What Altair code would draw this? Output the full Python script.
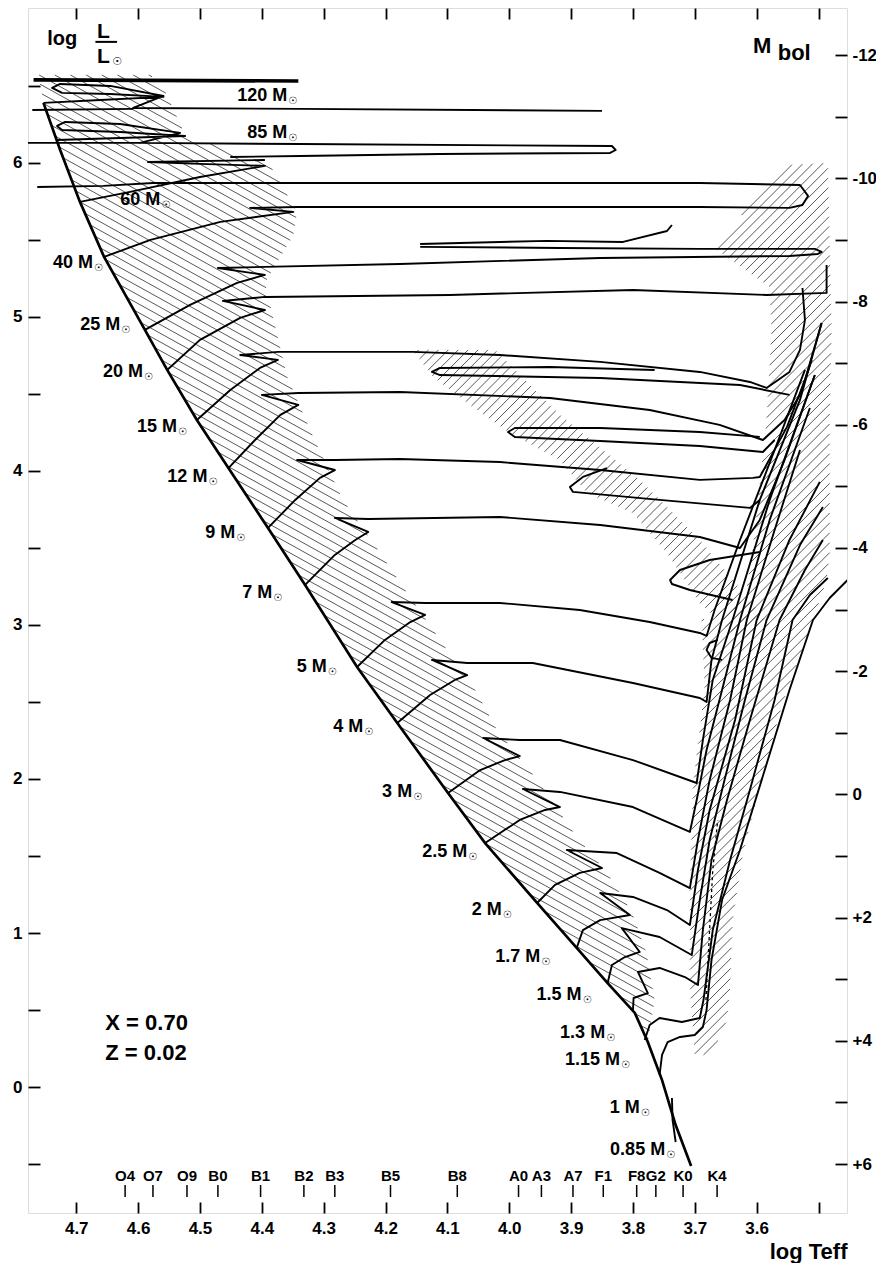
import altair as alt
import numpy as np
import pandas as pd

alt.data_transformers.disable_max_rows()

FONT = "Liberation Sans"
SYM_FONT = "DejaVu Sans"

W, H = 819, 1205
T_MIN, T_MAX = 3.454, 4.778
L_MIN, L_MAX = -0.818, 7.006

X_TICKS = [4.7, 4.6, 4.5, 4.4, 4.3, 4.2, 4.1, 4.0, 3.9, 3.8, 3.7, 3.6, 3.5]
Y_TICKS = [-0.5, 0.0, 0.5, 1.0, 1.5, 2.0, 2.5, 3.0, 3.5, 4.0, 4.5, 5.0, 5.5, 6.0, 6.5]
MBOL_TICKS = list(range(-12, 7))

# ---------------- ZAMS ----------------
ZAMS_T = [4.753, 4.726, 4.694, 4.655, 4.589, 4.553, 4.505, 4.454, 4.390, 4.330, 4.246,
          4.181, 4.099, 4.039, 3.955, 3.891, 3.841, 3.797, 3.776, 3.753, 3.731, 3.706]
ZAMS_L = [6.390, 6.084, 5.747, 5.390, 4.916, 4.656, 4.331, 4.019, 3.630, 3.260, 2.727,
          2.364, 1.909, 1.584, 1.195, 0.903, 0.675, 0.481, 0.292, 0.045, -0.247, -0.513]

# ---------------- evolutionary tracks (log Teff, log L) ----------------
T_120a = [4.753, 4.661, 4.559, 4.645, 4.723, 4.739, 4.726, 4.645, 4.559, 4.608, 4.338, 3.850]
L_120a = [6.390, 6.409, 6.429, 6.448, 6.455, 6.487, 6.513, 6.500, 6.435, 6.357, 6.351, 6.338]
T_120b = [4.769, 4.341]
L_120b = [6.539, 6.532]
T_120c = [4.771, 4.608]
L_120c = [6.344, 6.351]
T_85a = [4.731, 4.629, 4.524, 4.629, 4.723, 4.731, 4.718, 4.629, 4.532, 4.597, 4.338, 3.834,
         3.828, 3.837, 4.112, 4.338, 4.451]
L_85a = [6.149, 6.162, 6.175, 6.201, 6.214, 6.240, 6.266, 6.253, 6.195, 6.130, 6.123, 6.110,
         6.084, 6.065, 6.058, 6.045, 6.039]
T_85b = [4.778, 4.597]
L_85b = [6.130, 6.130]
T_60 = [4.694, 4.613, 4.500, 4.395, 4.500, 4.584, 4.395]
L_60 = [5.747, 5.812, 5.909, 5.981, 5.994, 6.006, 6.019]
T_40 = [4.655, 4.580, 4.467, 4.349, 4.419, 4.343, 4.112, 3.692, 3.547, 3.526, 3.517, 3.530,
        3.692, 4.112, 4.576, 4.656, 4.763]
L_40 = [5.390, 5.500, 5.617, 5.682, 5.708, 5.714, 5.714, 5.714, 5.708, 5.727, 5.786, 5.857,
        5.870, 5.870, 5.870, 5.851, 5.844]
T_25a = [4.589, 4.516, 4.440, 4.395, 4.471, 4.395, 4.177, 3.853, 3.547, 3.501, 3.495, 3.506,
         3.692, 3.918, 4.144]
L_25a = [4.916, 5.078, 5.221, 5.273, 5.318, 5.325, 5.344, 5.383, 5.396, 5.409, 5.422, 5.442,
         5.442, 5.448, 5.455]
T_25b = [4.144, 3.939, 3.816, 3.745, 3.737]
L_25b = [5.474, 5.494, 5.487, 5.558, 5.597]
T_20 = [4.553, 4.500, 4.435, 4.395, 4.463, 4.395, 4.096, 3.800, 3.584, 3.487, 3.487]
L_20 = [4.656, 4.851, 4.994, 5.045, 5.104, 5.130, 5.143, 5.175, 5.143, 5.156, 5.338]
T_15a = [4.505, 4.451, 4.403, 4.374, 4.435, 4.374, 4.156, 4.015, 3.853, 3.692, 3.611, 3.584,
         3.547, 3.530, 3.522, 3.526]
L_15a = [4.331, 4.526, 4.669, 4.721, 4.753, 4.773, 4.773, 4.753, 4.708, 4.643, 4.578, 4.539,
         4.643, 4.786, 4.981, 5.188]
T_15b = [3.547, 3.627, 3.853, 4.112, 4.125, 4.112, 3.934, 3.765]
L_15b = [4.494, 4.558, 4.604, 4.623, 4.643, 4.669, 4.675, 4.656]
T_12a = [4.454, 4.411, 4.370, 4.341, 4.400, 4.341, 4.177, 3.934, 3.773, 3.660, 3.590, 3.555,
         3.530, 3.511]
L_12a = [4.019, 4.201, 4.364, 4.429, 4.494, 4.506, 4.513, 4.474, 4.396, 4.299, 4.201, 4.331,
         4.494, 4.721]
T_12b = [3.571, 3.590, 3.692, 3.853, 3.991, 4.002, 3.991, 3.853, 3.692, 3.595]
L_12b = [4.201, 4.123, 4.162, 4.195, 4.221, 4.253, 4.279, 4.279, 4.253, 4.221]
T_9a = [4.390, 4.346, 4.306, 4.282, 4.343, 4.282, 4.177, 4.015, 3.853, 3.692, 3.606, 3.595,
        3.551, 3.522, 3.495]
L_9a = [3.630, 3.812, 3.955, 4.006, 4.071, 4.071, 4.078, 4.058, 4.006, 3.942, 3.955, 3.961,
        4.286, 4.591, 4.961]
T_9b = [3.842, 3.881, 3.902, 3.897, 3.757, 3.611, 3.595]
L_9b = [4.019, 3.961, 3.896, 3.864, 3.812, 3.760, 3.812]
T_7a = [4.330, 4.282, 4.249, 4.228, 4.282, 4.228, 4.015, 3.853, 3.692, 3.627, 3.595, 3.555, 3.506]
L_7a = [3.260, 3.455, 3.552, 3.604, 3.695, 3.688, 3.701, 3.649, 3.571, 3.500, 3.682, 4.071, 4.623]
T_7b = [3.639, 3.708, 3.737, 3.740, 3.724, 3.676, 3.595]
L_7b = [3.162, 3.227, 3.266, 3.292, 3.357, 3.422, 3.474]
T_5a = [4.246, 4.201, 4.160, 4.136, 4.190, 4.136, 4.015, 3.886, 3.773, 3.692, 3.681, 3.668,
        3.627, 3.571, 3.522]
L_5a = [2.727, 2.903, 3.019, 3.065, 3.149, 3.143, 3.143, 3.097, 3.019, 2.948, 2.929, 3.097,
        3.552, 4.136, 4.656]
T_5b = [3.656, 3.673, 3.681, 3.676, 3.663]
L_5b = [2.773, 2.786, 2.838, 2.883, 2.903]
T_4 = [4.181, 4.128, 4.088, 4.068, 4.125, 4.068, 3.962, 3.800, 3.692, 3.681, 3.673, 3.656,
       3.595, 3.530, 3.495]
L_4 = [2.364, 2.545, 2.643, 2.675, 2.773, 2.753, 2.753, 2.623, 2.526, 2.500, 2.773, 3.032,
       3.812, 4.461, 4.961]
T_3 = [4.099, 4.047, 4.007, 3.983, 4.042, 3.983, 3.918, 3.800, 3.697, 3.687, 3.671, 3.639,
       3.579, 3.506]
L_3 = [1.909, 2.058, 2.123, 2.149, 2.266, 2.253, 2.253, 2.123, 1.974, 2.253, 2.643, 3.032,
       3.812, 4.623]
T_2p5 = [4.039, 3.983, 3.942, 3.918, 3.978, 3.918, 3.800, 3.708, 3.697, 3.681, 3.656, 3.627,
         3.579, 3.514]
L_2p5 = [1.584, 1.734, 1.799, 1.818, 1.935, 1.916, 1.818, 1.656, 1.864, 2.188, 2.578, 3.032,
         3.682, 4.409]
T_2 = [3.955, 3.926, 3.886, 3.850, 3.907, 3.826, 3.757, 3.708, 3.695, 3.676, 3.643, 3.616,
       3.571, 3.530]
L_2 = [1.195, 1.312, 1.390, 1.422, 1.539, 1.519, 1.390, 1.292, 1.604, 1.994, 2.513, 3.032,
       3.617, 4.136]
T_1p7 = [3.891, 3.881, 3.853, 3.805, 3.853, 3.800, 3.745, 3.708, 3.695, 3.676, 3.635, 3.600,
         3.547, 3.498]
L_1p7 = [0.903, 1.019, 1.084, 1.117, 1.260, 1.234, 1.149, 1.052, 1.409, 1.799, 2.383, 3.032,
         3.552, 3.929]
T_1p5 = [3.841, 3.834, 3.813, 3.789, 3.818, 3.757, 3.705, 3.692, 3.676, 3.652, 3.619, 3.584,
         3.530, 3.493]
L_1p5 = [0.675, 0.792, 0.844, 0.877, 1.032, 0.974, 0.857, 1.214, 1.604, 1.994, 2.513, 3.032,
         3.519, 3.766]
T_1p3 = [3.800, 3.799, 3.776, 3.792, 3.757, 3.716, 3.695, 3.687, 3.673, 3.648, 3.611, 3.563,
         3.522, 3.493]
L_1p3 = [0.500, 0.578, 0.610, 0.747, 0.773, 0.714, 0.662, 1.019, 1.474, 1.864, 2.383, 3.032,
         3.357, 3.552]
T_1p15 = [3.781, 3.773, 3.757, 3.721, 3.692, 3.686, 3.671, 3.643, 3.611, 3.571, 3.542, 3.514,
          3.485]
L_1p15 = [0.305, 0.403, 0.448, 0.422, 0.448, 0.565, 1.019, 1.474, 1.929, 2.513, 3.032, 3.195,
          3.305]
T_1 = [3.757, 3.753, 3.744, 3.724, 3.700, 3.687, 3.681, 3.673, 3.656, 3.627, 3.587, 3.547,
       3.509, 3.482, 3.453]
L_1 = [0.078, 0.208, 0.292, 0.325, 0.338, 0.390, 0.500, 0.825, 1.214, 1.539, 2.058, 2.578,
       3.032, 3.175, 3.292]
T_085 = [3.731, 3.736, 3.737]
L_085 = [-0.357, -0.214, -0.071]
T_DASH = [3.682, 3.677, 3.671, 3.663]
L_DASH = [0.565, 0.955, 1.409, 1.734]

# ---------------- hatched regions (outlines) ----------------
HA_T = [4.761, 4.580, 4.556, 4.524, 4.387, 4.343, 4.349, 4.395, 4.359, 4.317, 4.269, 4.209,
        4.172, 4.112, 4.052, 4.020, 3.955, 3.891, 3.842, 3.802, 3.778, 3.765, 3.776]
HA_L = [6.571, 6.571, 6.461, 6.182, 5.987, 5.682, 5.532, 5.221, 4.610, 4.221, 3.812, 3.468,
        3.247, 2.903, 2.558, 2.318, 1.994, 1.623, 1.390, 1.136, 0.870, 0.565, 0.292]
HB_T = [3.551, 3.485, 3.479, 3.482, 3.482, 3.487, 3.509, 3.558, 3.595, 3.622, 3.639, 3.643,
        3.648, 3.673, 3.700, 3.708, 3.708, 3.703, 3.684, 3.689, 3.619, 3.606, 3.584, 3.576,
        3.579, 3.671]
HB_L = [5.987, 6.000, 4.916, 4.331, 3.468, 3.292, 3.032, 2.494, 1.948, 1.519, 1.084, 0.649,
        0.435, 0.208, 0.208, 0.649, 1.299, 1.948, 2.597, 3.032, 3.162, 3.506, 4.331, 4.916,
        5.195, 5.455]
HC_T = [4.156, 4.023, 3.918, 3.789, 3.692, 3.579, 3.627, 3.692, 3.745, 3.800, 3.874, 3.918,
        3.999, 4.059, 4.123]
HC_L = [4.786, 4.786, 4.364, 3.942, 3.552, 3.000, 2.903, 3.143, 3.468, 3.727, 3.857, 4.071,
        4.247, 4.416, 4.610]

# ---------------- labels ----------------
MASS_TEXT = ["120 M", "85 M", "60 M", "40 M", "25 M", "20 M", "15 M", "12 M", "9 M", "7 M",
             "5 M", "4 M", "3 M", "2.5 M", "2 M", "1.7 M", "1.5 M", "1.3 M", "1.15 M", "1 M",
             "0.85 M"]
MASS_T = [4.359, 4.359, 4.564, 4.673, 4.629, 4.592, 4.537, 4.488, 4.443, 4.383, 4.295, 4.236,
          4.157, 4.068, 4.012, 3.950, 3.883, 3.845, 3.821, 3.789, 3.748]
MASS_L = [6.435, 6.195, 5.760, 5.351, 4.948, 4.643, 4.286, 3.961, 3.597, 3.208, 2.727, 2.338,
          1.916, 1.526, 1.149, 0.844, 0.597, 0.351, 0.175, -0.136, -0.409]

SPEC_TEXT = ["O4", "O7", "O9", "B0", "B1", "B2", "B3", "B5", "B8", "A0", "A3", "A7", "F1",
             "F8", "G2", "K0", "K4"]
SPEC_T = [4.621, 4.576, 4.521, 4.471, 4.402, 4.332, 4.282, 4.192, 4.084, 3.985, 3.948, 3.897,
          3.848, 3.794, 3.763, 3.719, 3.664]

# ---------------- build tables ----------------
segments = [
    ("120a", T_120a, L_120a), ("120c", T_120c, L_120c),
    ("85a", T_85a, L_85a), ("85b", T_85b, L_85b), ("60", T_60, L_60), ("40", T_40, L_40),
    ("25a", T_25a, L_25a), ("25b", T_25b, L_25b), ("20", T_20, L_20),
    ("15a", T_15a, L_15a), ("15b", T_15b, L_15b), ("12a", T_12a, L_12a), ("12b", T_12b, L_12b),
    ("9a", T_9a, L_9a), ("9b", T_9b, L_9b), ("7a", T_7a, L_7a), ("7b", T_7b, L_7b),
    ("5a", T_5a, L_5a), ("5b", T_5b, L_5b), ("4", T_4, L_4), ("3", T_3, L_3),
    ("2.5", T_2p5, L_2p5), ("2", T_2, L_2), ("1.7", T_1p7, L_1p7), ("1.5", T_1p5, L_1p5),
    ("1.3", T_1p3, L_1p3), ("1.15", T_1p15, L_1p15), ("1", T_1, L_1), ("0.85", T_085, L_085),
]


def seg_table(items):
    rows = []
    for name, ts, ls in items:
        for i, (t, l) in enumerate(zip(ts, ls)):
            rows.append({"seg": name, "o": i, "T": t, "L": l})
    return pd.DataFrame(rows)


tracks_df = seg_table(segments)
thick_df = seg_table([("120b", T_120b, L_120b)])
zams_df = seg_table([("zams", ZAMS_T, ZAMS_L)])
dash_df = seg_table([("dash", T_DASH, L_DASH)])

SX = W / (T_MAX - T_MIN)
SY = H / (L_MAX - L_MIN)


def hatch(poly_t, poly_l, angle_deg, spacing):
    P = np.column_stack([(T_MAX - np.array(poly_t)) * SX, (L_MAX - np.array(poly_l)) * SY])
    a = np.radians(angle_deg)
    d = np.array([np.cos(a), np.sin(a)])
    nrm = np.array([-np.sin(a), np.cos(a)])
    s = P @ nrm
    n = len(P)
    out = []
    for k in range(int(np.floor(s.min() / spacing)), int(np.ceil(s.max() / spacing)) + 1):
        c = k * spacing + 1e-6
        hits = []
        for i in range(n):
            s1, s2 = s[i], s[(i + 1) % n]
            if (s1 - c) * (s2 - c) < 0:
                t = (c - s1) / (s2 - s1)
                hits.append(P[i] + t * (P[(i + 1) % n] - P[i]))
        hits.sort(key=lambda q: float(q @ d))
        for j in range(0, len(hits) - 1, 2):
            p, q = hits[j], hits[j + 1]
            out.append({"T1": T_MAX - p[0] / SX, "L1": L_MAX - p[1] / SY,
                        "T2": T_MAX - q[0] / SX, "L2": L_MAX - q[1] / SY})
    return out


polyA_T = HA_T + ZAMS_T[:18][::-1]
polyA_L = HA_L + ZAMS_L[:18][::-1]
hatch_df = pd.DataFrame(hatch(polyA_T, polyA_L, 29, 7.6)
                        + hatch(HB_T, HB_L, -45, 7.0)
                        + hatch(HC_T, HC_L, -45, 7.0))

mass_df = pd.DataFrame({"text": MASS_TEXT, "T": MASS_T, "L": MASS_L})
spec_df = pd.DataFrame({"text": SPEC_TEXT, "T": SPEC_T,
                        "Ltop": [-0.636] * len(SPEC_T), "Lbot": [-0.714] * len(SPEC_T),
                        "Ltxt": [-0.578] * len(SPEC_T)})

# ---------------- scales & axes ----------------
xs = alt.Scale(domain=[T_MIN, T_MAX], reverse=True, nice=False, zero=False)
ys = alt.Scale(domain=[L_MIN, L_MAX], nice=False, zero=False)

common_axis = dict(domain=False, grid=False, tickColor="black", tickWidth=1.8,
                   labelFont=FONT, labelFontWeight="bold", labelFontSize=17,
                   labelColor="black", labelOverlap=False, labelFlush=False)

ax_bottom = alt.Axis(orient="bottom", values=X_TICKS, tickSize=11, offset=-11, labelPadding=7,
                     labelExpr="datum.value < 3.55 ? '' : format(datum.value, '.1f')",
                     title="log Teff", titleFont=FONT, titleFontSize=22, titleFontWeight="bold",
                     titleColor="black", titleAlign="right", titleX=W, titleY=56,
                     titleBaseline="alphabetic", **common_axis)
ax_left = alt.Axis(orient="left", values=Y_TICKS, tickSize=12, offset=-12, labelPadding=6,
                   labelExpr="abs(datum.value - round(datum.value)) < 0.01 ? format(datum.value, 'd') : ''",
                   title=None, **common_axis)
ax_top = alt.Axis(orient="top", values=X_TICKS, tickSize=11, offset=-11, labels=False,
                  title=None, domain=False, grid=False, tickColor="black", tickWidth=1.8)
ax_right = alt.Axis(orient="right", values=[(4.75 - m) / 2.5 for m in MBOL_TICKS], tickSize=12,
                    offset=-12, labelPadding=5, title=None,
                    labelExpr=("(abs(round(4.75 - 2.5*datum.value)) % 2 == 0) ? "
                               "(round(4.75 - 2.5*datum.value) > 0 ? '+' + round(4.75 - 2.5*datum.value)"
                               " : '' + round(4.75 - 2.5*datum.value)) : ''"),
                    **common_axis)

X0 = alt.X("T:Q", scale=xs, axis=None)
Y0 = alt.Y("L:Q", scale=ys, axis=None)

hatch_layer = alt.Chart(hatch_df).mark_rule(color="#3a3a3a", strokeWidth=0.85, clip=True).encode(
    x=alt.X("T1:Q", scale=xs, axis=None), x2="T2:Q",
    y=alt.Y("L1:Q", scale=ys, axis=None), y2="L2:Q")

tracks_layer = alt.Chart(tracks_df).mark_line(color="black", strokeWidth=1.9, clip=True,
                                              strokeJoin="round").encode(
    x=alt.X("T:Q", scale=xs, axis=ax_bottom), y=alt.Y("L:Q", scale=ys, axis=ax_left),
    detail="seg:N", order="o:Q")

thick_layer = alt.Chart(thick_df).mark_line(color="black", strokeWidth=3.6, clip=True).encode(
    x=X0, y=Y0, detail="seg:N", order="o:Q")

zams_layer = alt.Chart(zams_df).mark_line(color="black", strokeWidth=2.7, clip=True).encode(
    x=alt.X("T:Q", scale=xs, axis=ax_top), y=alt.Y("L:Q", scale=ys, axis=ax_right),
    order="o:Q")

dash_layer = alt.Chart(dash_df).mark_line(color="black", strokeWidth=1.3, strokeDash=[3, 3],
                                          clip=True).encode(x=X0, y=Y0, order="o:Q")

mass_layer = alt.Chart(mass_df).mark_text(align="right", baseline="middle", font=FONT,
                                          fontSize=18, fontWeight="bold", color="black").encode(
    x=X0, y=Y0, text="text:N")
sun_layer = alt.Chart(mass_df).mark_text(align="left", baseline="middle", font=SYM_FONT,
                                         fontSize=10, dx=1, dy=5, color="black").encode(
    x=X0, y=Y0, text=alt.value("☉"))

spec_tick = alt.Chart(spec_df).mark_rule(color="black", strokeWidth=1.5).encode(
    x=X0, y=alt.Y("Ltop:Q", scale=ys, axis=None), y2="Lbot:Q")
spec_text = alt.Chart(spec_df).mark_text(baseline="middle", font=FONT, fontSize=15,
                                         fontWeight="bold", color="black").encode(
    x=X0, y=alt.Y("Ltxt:Q", scale=ys, axis=None), text="text:N")

ann_df = pd.DataFrame({
    "text": ["log", "L", "L", "M", "bol", "X = 0.70", "Z = 0.02"],
    "T": [4.747, 4.656, 4.656, 3.606, 3.566, 4.653, 4.653],
    "L": [6.766, 6.812, 6.649, 6.714, 6.669, 0.370, 0.175],
    "size": [20, 21, 21, 22, 22, 22, 22],
    "align": ["left", "center", "center", "left", "left", "left", "left"],
})
ann_left = alt.Chart(ann_df[ann_df["align"] == "left"]).mark_text(
    align="left", baseline="alphabetic", font=FONT, fontWeight="bold", color="black").encode(
    x=X0, y=Y0, text="text:N", size=alt.Size("size:Q", scale=None, legend=None))
ann_center = alt.Chart(ann_df[ann_df["align"] == "center"]).mark_text(
    align="center", baseline="alphabetic", font=FONT, fontWeight="bold", color="black").encode(
    x=X0, y=Y0, text="text:N", size=alt.Size("size:Q", scale=None, legend=None))
frac_bar = alt.Chart(pd.DataFrame({"T": [4.669], "T2": [4.634], "L": [6.786]})).mark_rule(
    color="black", strokeWidth=2).encode(x=X0, x2="T2:Q", y=Y0)
frac_sun = alt.Chart(pd.DataFrame({"T": [4.634], "L": [6.656]})).mark_text(
    align="center", baseline="middle", font=SYM_FONT, fontSize=11, color="black").encode(
    x=X0, y=Y0, text=alt.value("☉"))

chart = alt.layer(
    hatch_layer, tracks_layer, thick_layer, zams_layer, dash_layer,
    mass_layer, sun_layer, spec_tick, spec_text, ann_left, ann_center, frac_bar, frac_sun,
).resolve_axis(x="independent", y="independent").properties(
    width=W, height=H,
    autosize=alt.AutoSizeParams(type="none"),
    padding={"left": 20, "top": 0, "right": 29, "bottom": 50},
).configure_view(stroke="black", strokeWidth=2.6).configure(background="white")

chart.save("out.html", embed_options={"renderer": "svg", "actions": False})
